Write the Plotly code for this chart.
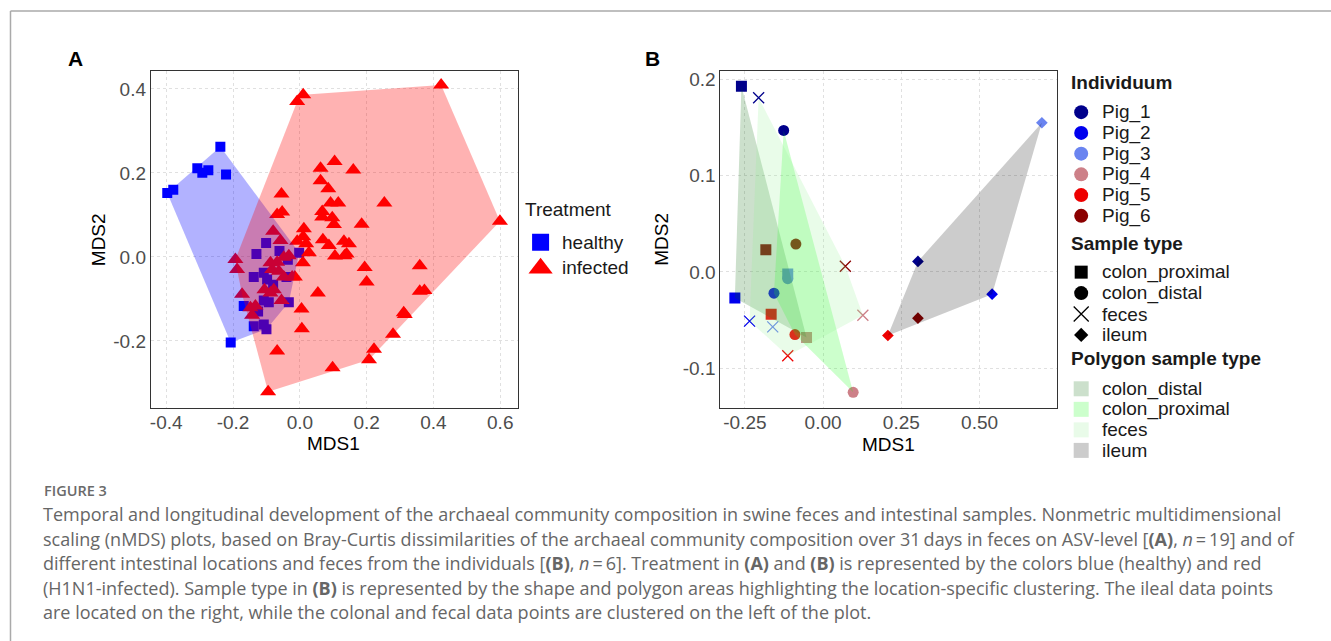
import plotly.graph_objects as go

W, H = 1331, 641

# ---------------- Panel A data (MDS1, MDS2) ----------------
healthy_x = [-0.397, -0.379, -0.307, -0.292, -0.274, -0.238, -0.221, -0.207, -0.168, -0.138,
             -0.108, -0.100, -0.130, -0.125, -0.101, -0.061, -0.036, -0.002, -0.138, -0.108,
             -0.098, -0.080, -0.040, -0.108, -0.093, -0.033]
healthy_y = [0.152, 0.160, 0.211, 0.200, 0.206, 0.262, 0.196, -0.204, -0.117, -0.165,
             -0.161, -0.172, 0.007, -0.130, 0.033, 0.014, -0.007, 0.010, -0.048, -0.038,
             -0.054, -0.066, -0.048, -0.104, -0.108, -0.108]

infected_x = [-0.008, 0.010, 0.423, 0.599, -0.095, 0.062, 0.104, 0.160, 0.062, 0.085,
              -0.055, 0.092, 0.115, 0.253, 0.067, -0.053, -0.068, 0.067, 0.097, 0.102,
              0.185, 0.012, -0.080, 0.010, 0.069, -0.058, -0.008, 0.019, 0.087, 0.132,
              0.147, 0.027, 0.105, 0.134, 0.140, -0.193, -0.188, -0.048, -0.033, 0.009,
              -0.088, -0.068, -0.083, -0.063, -0.048, -0.023, -0.015, 0.194, 0.359, 0.200,
              0.359, 0.373, 0.054, -0.106, -0.078, -0.088, -0.173, -0.055, 0.005, -0.148,
              -0.133, -0.143, 0.311, 0.314, 0.006, 0.279, -0.068, 0.222, 0.207, 0.098]
infected_y = [0.370, 0.386, 0.409, 0.085, -0.321, 0.211, 0.227, 0.207, 0.181, 0.162,
              0.150, 0.128, 0.128, 0.128, 0.108, 0.107, 0.101, 0.095, 0.093, 0.077,
              0.078, 0.067, 0.061, 0.048, 0.041, 0.039, 0.037, 0.031, 0.027, 0.037,
              0.031, 0.010, 0.002, 0.003, 0.007, -0.006, -0.030, -0.001, 0.003, -0.014,
              -0.014, -0.013, -0.030, -0.034, -0.048, -0.048, -0.048, -0.025, -0.021, -0.060,
              -0.082, -0.080, -0.086, -0.078, -0.078, -0.086, -0.089, -0.104, -0.124, -0.121,
              -0.117, -0.139, -0.133, -0.137, -0.171, -0.184, -0.224, -0.220, -0.245, -0.264]

treatments = ["healthy", "infected"]

a_xticks = [-0.4, -0.2, 0.0, 0.2, 0.4, 0.6]
a_xticklabels = ["-0.4", "-0.2", "0.0", "0.2", "0.4", "0.6"]
a_yticks = [-0.2, 0.0, 0.2, 0.4]
a_yticklabels = ["-0.2", "0.0", "0.2", "0.4"]

# ---------------- Panel B data ----------------
pigs = ["Pig_1", "Pig_2", "Pig_3", "Pig_4", "Pig_5", "Pig_6"]
pig_colors = ["#00008B", "#0000EE", "#6A84F0", "#CD8088", "#EE0000", "#8B0000"]

sample_types = ["colon_proximal", "colon_distal", "feces", "ileum"]

prox_pigs = ["Pig_1", "Pig_2", "Pig_3", "Pig_4", "Pig_5", "Pig_6"]
prox_x = [-0.261, -0.282, -0.113, -0.053, -0.166, -0.183]
prox_y = [0.193, -0.027, -0.002, -0.068, -0.044, 0.023]

dist_pigs = ["Pig_1", "Pig_2", "Pig_3", "Pig_4", "Pig_5", "Pig_6"]
dist_x = [-0.126, -0.157, -0.113, 0.096, -0.090, -0.087]
dist_y = [0.147, -0.022, -0.007, -0.125, -0.065, 0.029]

fec_pigs = ["Pig_1", "Pig_2", "Pig_3", "Pig_4", "Pig_5", "Pig_6"]
fec_x = [-0.206, -0.235, -0.161, 0.127, -0.113, 0.071]
fec_y = [0.181, -0.051, -0.057, -0.045, -0.087, 0.006]

ile_pigs = ["Pig_1", "Pig_2", "Pig_3", "Pig_5", "Pig_6"]
ile_x = [0.303, 0.540, 0.699, 0.207, 0.303]
ile_y = [0.011, -0.023, 0.155, -0.066, -0.048]

b_xticks = [-0.25, 0.0, 0.25, 0.5]
b_xticklabels = ["-0.25", "0.00", "0.25", "0.50"]
b_yticks = [-0.1, 0.0, 0.1, 0.2]
b_yticklabels = ["-0.1", "0.0", "0.1", "0.2"]

polygon_types = ["colon_distal", "colon_proximal", "feces", "ileum"]
polygon_fills = ["rgba(0,100,0,0.2)", "rgba(0,255,0,0.2)", "rgba(144,238,144,0.2)", "rgba(0,0,0,0.2)"]
polygon_swatch = ["#CCE0CC", "#CCFFCC", "#E9FBE9", "#CCCCCC"]

caption_title = "FIGURE 3"
caption_lines = [
    "Temporal and longitudinal development of the archaeal community composition in swine feces and intestinal samples. Nonmetric multidimensional",
    "scaling (nMDS) plots, based on Bray-Curtis dissimilarities of the archaeal community composition over 31\u2009days in feces on ASV-level [<b>(A)</b>, <i>n</i>\u2009=\u200919] and of",
    "different intestinal locations and feces from the individuals [<b>(B)</b>, <i>n</i>\u2009=\u20096]. Treatment in <b>(A)</b> and <b>(B)</b> is represented by the colors blue (healthy) and red",
    "(H1N1-infected). Sample type in <b>(B)</b> is represented by the shape and polygon areas highlighting the location-specific clustering. The ileal data points",
    "are located on the right, while the colonal and fecal data points are clustered on the left of the plot.",
]


def hull(xs, ys):
    pts = sorted(set(zip(xs, ys)))
    if len(pts) < 3:
        return pts

    def cross(o, a, b):
        return (a[0] - o[0]) * (b[1] - o[1]) - (a[1] - o[1]) * (b[0] - o[0])

    lower, upper = [], []
    for p in pts:
        while len(lower) >= 2 and cross(lower[-2], lower[-1], p) <= 0:
            lower.pop()
        lower.append(p)
    for p in reversed(pts):
        while len(upper) >= 2 and cross(upper[-2], upper[-1], p) <= 0:
            upper.pop()
        upper.append(p)
    h = lower[:-1] + upper[:-1]
    return h + [h[0]]


def px(x):
    return x / W


def py(y):
    return 1 - y / H


color_of = dict(zip(pigs, pig_colors))
FONT = "Liberation Sans, Arial, sans-serif"
TICK = dict(family=FONT, size=19, color="#4D4D4D")

fig = go.Figure()

# ---- Panel A points ----
fig.add_trace(go.Scatter(x=healthy_x, y=healthy_y, mode="markers", xaxis="x", yaxis="y",
                         marker=dict(symbol="square", size=10, color="#0000FF"), showlegend=False))
fig.add_trace(go.Scatter(x=infected_x, y=infected_y, mode="markers", xaxis="x", yaxis="y",
                         marker=dict(symbol="triangle-up", size=14, color="#FF0000"), showlegend=False))
# ---- Panel A polygons (drawn over points) ----
for xs, ys, fc in [(healthy_x, healthy_y, "rgba(0,0,255,0.3)"), (infected_x, infected_y, "rgba(255,0,0,0.3)")]:
    h = hull(xs, ys)
    fig.add_trace(go.Scatter(x=[p[0] for p in h], y=[p[1] for p in h], mode="lines", fill="toself",
                             fillcolor=fc, line=dict(width=0), xaxis="x", yaxis="y",
                             showlegend=False, hoverinfo="skip"))

# ---- Panel B points ----
b_sets = [
    (prox_x, prox_y, prox_pigs, "square", 11),
    (dist_x, dist_y, dist_pigs, "circle", 11),
    (fec_x, fec_y, fec_pigs, "x-thin", 11),
    (ile_x, ile_y, ile_pigs, "diamond", 9),
]
for xs, ys, pg, sym, sz in b_sets:
    cols = [color_of[p] for p in pg]
    fig.add_trace(go.Scatter(x=xs, y=ys, mode="markers", xaxis="x2", yaxis="y2",
                             marker=dict(symbol=sym, size=sz, color=cols,
                                         line=dict(color=cols, width=1.3 if sym == "x-thin" else 0)),
                             showlegend=False))
b_poly = [
    (prox_x, prox_y, polygon_fills[0]),
    (dist_x, dist_y, polygon_fills[1]),
    (fec_x, fec_y, polygon_fills[2]),
    (ile_x, ile_y, polygon_fills[3]),
]
for xs, ys, fc in b_poly:
    h = hull(xs, ys)
    fig.add_trace(go.Scatter(x=[p[0] for p in h], y=[p[1] for p in h], mode="lines", fill="toself",
                             fillcolor=fc, line=dict(width=0), xaxis="x2", yaxis="y2",
                             showlegend=False, hoverinfo="skip"))

# ---- Legends (drawn on a pixel overlay axis) ----
ann = []


def text(x, y, s, size=19, color="#1A1A1A", bold=False, family=FONT, anchor="left"):
    ann.append(dict(x=px(x), y=py(y), xref="paper", yref="paper", text=(f"<b>{s}</b>" if bold else s),
                    showarrow=False, xanchor=anchor, yanchor="middle",
                    font=dict(size=size, color=color, family=family)))


# Legend A
LA_X, LA_SYM, LA_TXT, LA_TITLE_Y, LA_Y0, LA_STEP = 522, 540, 559, 208, 241, 25
text(LA_X, LA_TITLE_Y, "Treatment")
la_sym = ["square", "triangle-up"]
la_size = [17, 21]
la_col = ["#0000FF", "#FF0000"]
for i, t in enumerate(treatments):
    yy = LA_Y0 + i * LA_STEP
    fig.add_trace(go.Scatter(x=[LA_SYM], y=[yy + (0 if i == 0 else 1)], mode="markers", xaxis="x3", yaxis="y3",
                             marker=dict(symbol=la_sym[i], size=la_size[i], color=la_col[i]),
                             showlegend=False, hoverinfo="skip"))
    text(LA_TXT, yy, t)

# Legend B
LB_X, LB_SYM, LB_TXT, LB_STEP = 1069, 1081, 1100, 20.8
text(LB_X, 81, "Individuum", bold=True)
for i, p in enumerate(pigs):
    yy = 110.5 + i * LB_STEP
    fig.add_trace(go.Scatter(x=[LB_SYM], y=[yy], mode="markers", xaxis="x3", yaxis="y3",
                             marker=dict(symbol="circle", size=14, color=pig_colors[i]),
                             showlegend=False, hoverinfo="skip"))
    text(LB_TXT, yy, p)

text(LB_X, 242, "Sample type", bold=True)
st_sym = ["square", "circle", "x-thin", "diamond"]
st_size = [13, 14, 15, 11]
for i, s in enumerate(sample_types):
    yy = 271 + i * 21
    fig.add_trace(go.Scatter(x=[LB_SYM], y=[yy], mode="markers", xaxis="x3", yaxis="y3",
                             marker=dict(symbol=st_sym[i], size=st_size[i], color="black",
                                         line=dict(color="black", width=1.3 if st_sym[i] == "x-thin" else 0)),
                             showlegend=False, hoverinfo="skip"))
    text(LB_TXT, yy, s)

text(LB_X, 358, "Polygon sample type", bold=True)
for i, s in enumerate(polygon_types):
    yy = 388 + i * 20.6
    fig.add_trace(go.Scatter(x=[LB_SYM], y=[yy], mode="markers", xaxis="x3", yaxis="y3",
                             marker=dict(symbol="square", size=15, color=polygon_swatch[i]),
                             showlegend=False, hoverinfo="skip"))
    text(LB_TXT, yy, s)

# Panel labels and axis titles
text(75, 57, "A", size=21, color="black", bold=True, anchor="center")
text(652, 57, "B", size=21, color="black", bold=True, anchor="center")
text(333, 443, "MDS1", color="black", anchor="center")
text(888, 444, "MDS1", color="black", anchor="center")
ann.append(dict(x=px(97), y=py(238), xref="paper", yref="paper", text="MDS2", textangle=-90, showarrow=False,
                xanchor="center", yanchor="middle", font=dict(size=19, color="black", family=FONT)))
ann.append(dict(x=px(661), y=py(238), xref="paper", yref="paper", text="MDS2", textangle=-90, showarrow=False,
                xanchor="center", yanchor="middle", font=dict(size=19, color="black", family=FONT)))

# Caption
CAP_FONT = "Open Sans, Noto Sans, sans-serif"
ann.append(dict(x=px(41), y=py(490), xref="paper", yref="paper", text=caption_title, showarrow=False,
                xanchor="left", yanchor="middle", font=dict(size=14.5, color="#6A6A6A", family=CAP_FONT, weight=600)))
for i, line in enumerate(caption_lines):
    ann.append(dict(x=px(40), y=py(514 + i * 24.6), xref="paper", yref="paper", text=line, showarrow=False,
                    xanchor="left", yanchor="middle", font=dict(size=18, color="#666666", family=CAP_FONT)))

axis_common = dict(showline=True, mirror=True, linecolor="#333333", linewidth=1.2, zeroline=False,
                   showgrid=True, gridcolor="#E0E0E0", griddash="dot", gridwidth=1, ticks="",
                   tickfont=TICK, fixedrange=True)

ydom = [py(407), py(69)]
fig.update_layout(
    width=W, height=H, margin=dict(l=0, r=0, t=0, b=0),
    paper_bgcolor="white", plot_bgcolor="rgba(0,0,0,0)", showlegend=False,
    xaxis=dict(domain=[px(150), px(517)], range=[-0.446, 0.652], tickvals=a_xticks, ticktext=a_xticklabels,
               anchor="y", ticklabelstandoff=-3, **axis_common),
    yaxis=dict(domain=ydom, range=[-0.359, 0.443], tickvals=a_yticks, ticktext=a_yticklabels,
               anchor="x", **axis_common),
    xaxis2=dict(domain=[px(720), px(1057)], range=[-0.328, 0.748], tickvals=b_xticks, ticktext=b_xticklabels,
                anchor="y2", ticklabelstandoff=-3, **axis_common),
    yaxis2=dict(domain=ydom, range=[-0.141, 0.209], tickvals=b_yticks, ticktext=b_yticklabels,
                anchor="x2", **axis_common),
    xaxis3=dict(domain=[0, 1], range=[0, W], visible=False, fixedrange=True, anchor="y3"),
    yaxis3=dict(domain=[0, 1], range=[H, 0], visible=False, fixedrange=True, anchor="x3"),
    annotations=ann,
    shapes=[
        dict(type="line", xref="paper", yref="paper", x0=px(9.5), x1=1, y0=py(9), y1=py(9),
             line=dict(color="#AAAAAA", width=1.5)),
        dict(type="line", xref="paper", yref="paper", x0=px(9.5), x1=px(9.5), y0=py(9), y1=0,
             line=dict(color="#AAAAAA", width=1.5)),
    ],
)

fig.write_html("out.html", config={"displayModeBar": False},
               post_script="document.body.style.margin='0';document.body.style.overflow='hidden';")
